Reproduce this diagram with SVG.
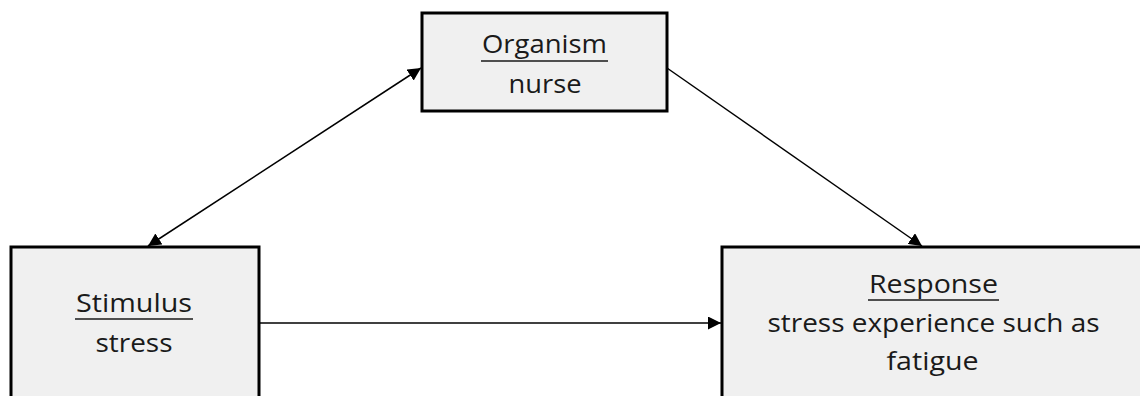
<svg xmlns="http://www.w3.org/2000/svg" width="1140" height="396" viewBox="0 0 1140 396">
  <style>
    .box { fill: #f0f0f0; stroke: #000; stroke-width: 3; }
    .lbl { font-family: "Open Sans", "Noto Sans", sans-serif; font-size: 25px; fill: #1a1a1a; text-anchor: middle; }
    .ul { stroke: #1a1a1a; stroke-width: 1.6; }
    .conn { stroke: #000; stroke-width: 1.5; fill: none; }
  </style>
  <defs>
    <marker id="arrow" viewBox="0 0 13 13" refX="13" refY="6.5" markerWidth="13" markerHeight="13" markerUnits="userSpaceOnUse" orient="auto-start-reverse">
      <path d="M0,0 L13,6.5 L0,13 Z" fill="#000"/>
    </marker>
  </defs>

  <rect width="1140" height="396" fill="#fff"/>

  <g id="connectors">
    <line class="conn" x1="148" y1="246" x2="421" y2="68" marker-start="url(#arrow)" marker-end="url(#arrow)"/>
    <line class="conn" x1="667" y1="68" x2="922" y2="246" marker-end="url(#arrow)"/>
    <line class="conn" x1="259" y1="323" x2="721" y2="323" marker-end="url(#arrow)"/>
  </g>

  <g id="organism">
    <rect class="box" x="422" y="13" width="245" height="98"/>
    <text class="lbl" x="544.5" y="53" textLength="125" lengthAdjust="spacingAndGlyphs">Organism</text>
    <line class="ul" x1="481" y1="61" x2="608" y2="61"/>
    <text class="lbl" x="545" y="93" textLength="73" lengthAdjust="spacingAndGlyphs">nurse</text>
  </g>

  <g id="stimulus">
    <rect class="box" x="11" y="247" width="248" height="160"/>
    <text class="lbl" x="134" y="312" textLength="116" lengthAdjust="spacingAndGlyphs">Stimulus</text>
    <line class="ul" x1="75" y1="319" x2="193" y2="319"/>
    <text class="lbl" x="134" y="352" textLength="77" lengthAdjust="spacingAndGlyphs">stress</text>
  </g>

  <g id="response">
    <rect class="box" x="722" y="247" width="430" height="160"/>
    <text class="lbl" x="933.5" y="293" textLength="129" lengthAdjust="spacingAndGlyphs">Response</text>
    <line class="ul" x1="868" y1="300" x2="999" y2="300"/>
    <text class="lbl" x="933.5" y="332" textLength="332" lengthAdjust="spacingAndGlyphs">stress experience such as</text>
    <text class="lbl" x="932.5" y="370" textLength="92" lengthAdjust="spacingAndGlyphs">fatigue</text>
  </g>
</svg>
